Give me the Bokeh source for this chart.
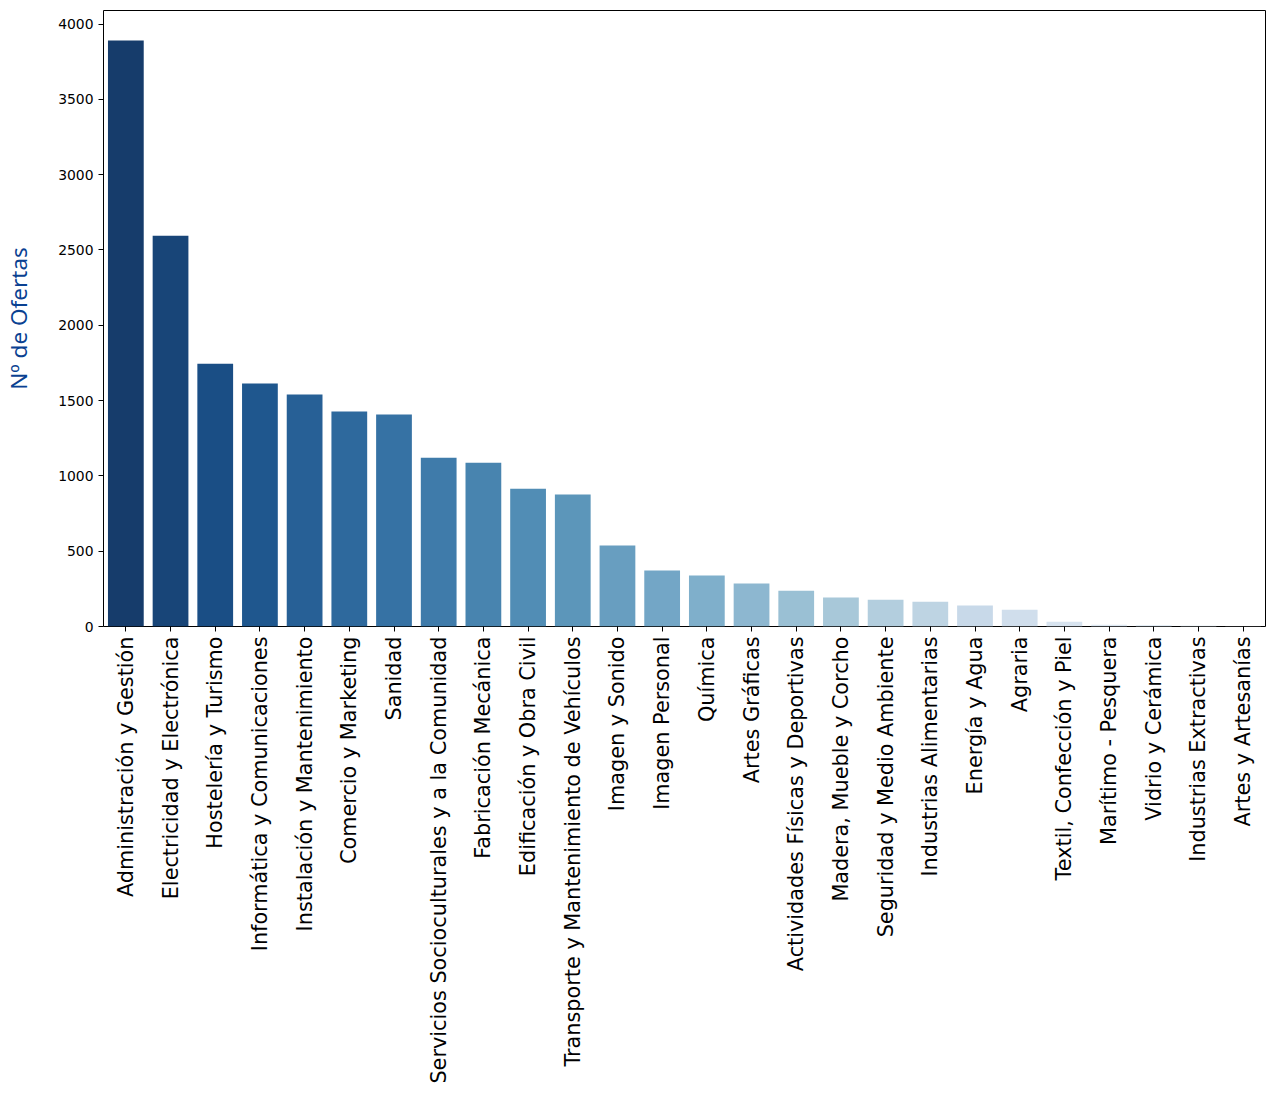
import colorsys
import numpy as np
from bokeh.plotting import figure
from bokeh.models import ColumnDataSource, Range1d, FixedTicker
from bokeh.embed import file_html
from bokeh.resources import INLINE

categories = [
    "Administración y Gestión", "Electricidad y Electrónica", "Hostelería y Turismo",
    "Informática y Comunicaciones", "Instalación y Mantenimiento", "Comercio y Marketing",
    "Sanidad", "Servicios Socioculturales y a la Comunidad", "Fabricación Mecánica",
    "Edificación y Obra Civil", "Transporte y Mantenimiento de Vehículos", "Imagen y Sonido",
    "Imagen Personal", "Química", "Artes Gráficas", "Actividades Físicas y Deportivas",
    "Madera, Mueble y Corcho", "Seguridad y Medio Ambiente", "Industrias Alimentarias",
    "Energía y Agua", "Agraria", "Textil, Confección y Piel", "Marítimo - Pesquera",
    "Vidrio y Cerámica", "Industrias Extractivas", "Artes y Artesanías",
]
ofertas = [
    3890, 2595, 1745, 1613, 1540, 1427, 1407, 1120, 1088, 915, 876, 537,
    371, 338, 285, 238, 192, 178, 165, 139, 112, 32, 12, 10, 7, 2,
]
y_ticks = [0, 500, 1000, 1500, 2000, 2500, 3000, 3500, 4000]

# seaborn "Blues_r" palette with barplot desaturation (0.75)
blues = ["#f7fbff", "#deebf7", "#c6dbef", "#9ecae1", "#6baed6",
         "#4292c6", "#2171b5", "#08519c", "#08306b"]
blues_rgb = np.array([[int(h[i:i + 2], 16) / 255 for i in (1, 3, 5)] for h in blues])
n = len(categories)
pos = 1 - np.linspace(0, 1, n + 2)[1:-1]
xs = np.linspace(0, 1, len(blues))
colors = []
for t in pos:
    r, g, b = (np.interp(t, xs, blues_rgb[:, k]) for k in range(3))
    h, l, s = colorsys.rgb_to_hls(r, g, b)
    r, g, b = colorsys.hls_to_rgb(h, l, s * 0.75)
    colors.append("#%02x%02x%02x" % (round(r * 255), round(g * 255), round(b * 255)))

src = ColumnDataSource(dict(cat=categories, val=ofertas, color=colors))

p = figure(
    x_range=categories, y_range=Range1d(0, 4090),
    frame_width=1162, frame_height=616,
    min_border_left=98, min_border_right=2, min_border_top=10, min_border_bottom=300,
    output_backend="svg", toolbar_location=None,
)
p.vbar(x="cat", top="val", width=0.8, color="color", line_color=None, source=src)

p.xgrid.visible = False
p.ygrid.visible = False
p.outline_line_color = "black"
p.outline_line_alpha = 1
p.outline_line_width = 1

p.yaxis.ticker = FixedTicker(ticks=y_ticks)
p.yaxis.minor_tick_line_color = None
p.yaxis.major_tick_out = 5
p.yaxis.major_tick_in = 0
p.yaxis.major_label_standoff = 5
p.yaxis.major_label_text_font = "DejaVu Sans"
p.yaxis.major_label_text_font_size = "13.9px"
p.yaxis.major_label_text_color = "black"
p.yaxis.axis_label = "Nº de Ofertas"
p.yaxis.axis_label_text_font = "Noto Sans"
p.yaxis.axis_label_text_font_style = "normal"
p.yaxis.axis_label_text_font_size = "22.5px"
p.yaxis.axis_label_text_color = "#0a4191"
p.yaxis.axis_label_standoff = 21
p.yaxis.axis_line_color = None

p.xaxis.major_label_orientation = np.pi / 2
p.xaxis.major_tick_out = 5
p.xaxis.major_tick_in = 0
p.xaxis.major_label_standoff = 5
p.xaxis.major_label_text_font = "DejaVu Sans"
p.xaxis.major_label_text_font_size = "20.8px"
p.xaxis.major_label_text_color = "black"
p.xaxis.axis_line_color = None

open("out.html", "w").write(file_html(p, INLINE))
